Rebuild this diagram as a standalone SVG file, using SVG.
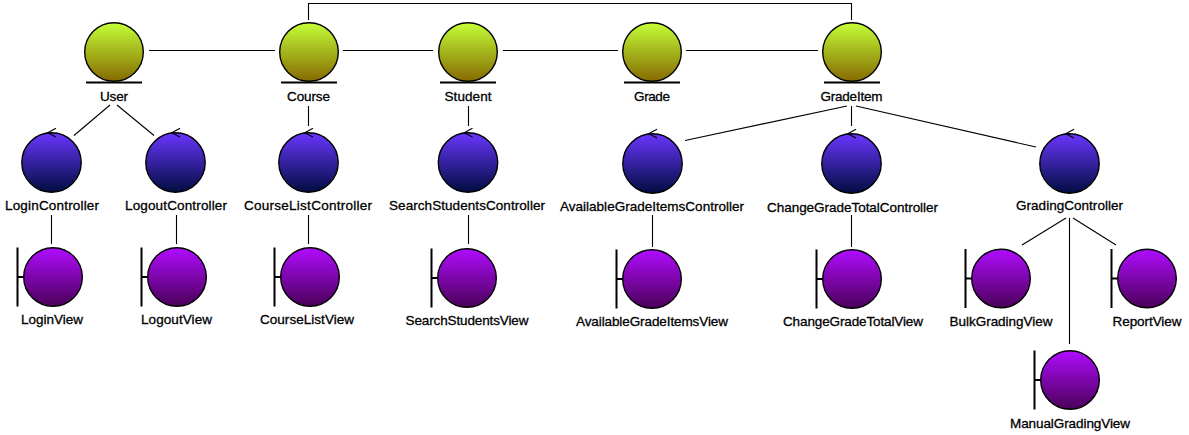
<svg xmlns="http://www.w3.org/2000/svg" width="1189" height="435" viewBox="0 0 1189 435">
<style>
text{font-family:"Liberation Sans",Arial,sans-serif;font-size:13.5px;text-anchor:middle;fill:#000;stroke:#000;stroke-width:.3px}
.c{fill:none;stroke:#000;stroke-width:1.1}
.o{stroke:#000;stroke-width:1.4}
.b{stroke:#000;stroke-width:2;fill:none}
</style>
<defs>
<linearGradient id="ge" x1="0" y1="0" x2="0" y2="1"><stop offset="0" stop-color="#c4ff38"/><stop offset="1" stop-color="#856a00"/></linearGradient>
<linearGradient id="gc" x1="0" y1="0" x2="0" y2="1"><stop offset="0" stop-color="#6a36ff"/><stop offset="1" stop-color="#000d40"/></linearGradient>
<linearGradient id="gv" x1="0" y1="0" x2="0" y2="1"><stop offset="0" stop-color="#b00cff"/><stop offset="1" stop-color="#4a0058"/></linearGradient>
<g id="entity"><circle r="29.3" fill="url(#ge)" class="o"/><path d="M-28 30.500H28" class="b"/></g>
<g id="control"><circle r="29.7" fill="url(#gc)" class="o"/><path d="M4.500 -34.200L-3.800 -29.800L4.500 -25.500" class="c"/></g>
<g id="view"><circle r="29.3" fill="url(#gv)" class="o"/><path d="M-35.500 -29.500V29.500M-35.500 0H-29.500" class="b"/></g>
</defs>
<g id="connectors" class="c">
<path class="c" d="M149 50.500H275"/>
<path class="c" d="M343 50.500H433"/>
<path class="c" d="M503 50.500H618"/>
<path class="c" d="M686 50.500H818"/>
<path class="c" d="M308.500 20V3.500H851.500V20"/>
<path class="c" d="M110 105L74 135.500"/>
<path class="c" d="M117 105L154 135.500"/>
<path class="c" d="M308.500 106V126"/>
<path class="c" d="M468.500 106V126"/>
<path class="c" d="M847 106L685 140.500"/>
<path class="c" d="M851.500 106V126"/>
<path class="c" d="M856 106L1036 147"/>
<path class="c" d="M51.500 215V244"/>
<path class="c" d="M176.500 215V244"/>
<path class="c" d="M308.500 215V244"/>
<path class="c" d="M468.500 215V244"/>
<path class="c" d="M652.500 215V247"/>
<path class="c" d="M851.500 215V247"/>
<path class="c" d="M1066 218L1022 245"/>
<path class="c" d="M1069.500 218V344"/>
<path class="c" d="M1073 218L1116 245"/>
</g>
<g id="User"><use href="#entity" x="114" y="52"/><text x="114" y="101" textLength="28">User</text></g>
<g id="Course"><use href="#entity" x="309" y="52"/><text x="308.500" y="101" textLength="43">Course</text></g>
<g id="Student"><use href="#entity" x="468" y="52"/><text x="468" y="101" textLength="47">Student</text></g>
<g id="Grade"><use href="#entity" x="652" y="52"/><text x="652" y="101" textLength="36">Grade</text></g>
<g id="GradeItem"><use href="#entity" x="852" y="52"/><text x="851.500" y="101" textLength="62">GradeItem</text></g>
<g id="LoginController"><use href="#control" x="51.500" y="162.500"/><text x="52" y="210" textLength="94">LoginController</text></g>
<g id="LogoutController"><use href="#control" x="175.500" y="162.500"/><text x="176" y="210" textLength="102">LogoutController</text></g>
<g id="CourseListController"><use href="#control" x="308.500" y="162.500"/><text x="308" y="210" textLength="128">CourseListController</text></g>
<g id="SearchStudentsController"><use href="#control" x="468" y="162.500"/><text x="467" y="210" textLength="156">SearchStudentsController</text></g>
<g id="AvailableGradeItemsController"><use href="#control" x="652.500" y="163.500"/><text x="652" y="211" textLength="184">AvailableGradeItemsController</text></g>
<g id="ChangeGradeTotalController"><use href="#control" x="851.500" y="163.500"/><text x="852.500" y="212" textLength="171">ChangeGradeTotalController</text></g>
<g id="GradingController"><use href="#control" x="1069.500" y="163.500"/><text x="1069.500" y="210" textLength="107">GradingController</text></g>
<g id="LoginView"><use href="#view" x="53" y="277"/><text x="52" y="324" textLength="62">LoginView</text></g>
<g id="LogoutView"><use href="#view" x="177" y="277"/><text x="176.500" y="324" textLength="71">LogoutView</text></g>
<g id="CourseListView"><use href="#view" x="310" y="277"/><text x="307" y="324" textLength="94">CourseListView</text></g>
<g id="SearchStudentsView"><use href="#view" x="467" y="278"/><text x="467" y="325" textLength="123">SearchStudentsView</text></g>
<g id="AvailableGradeItemsView"><use href="#view" x="652" y="279"/><text x="652" y="326" textLength="152">AvailableGradeItemsView</text></g>
<g id="ChangeGradeTotalView"><use href="#view" x="852" y="279"/><text x="853" y="326" textLength="140">ChangeGradeTotalView</text></g>
<g id="BulkGradingView"><use href="#view" x="1001" y="278.500"/><text x="1001" y="326" textLength="103">BulkGradingView</text></g>
<g id="ReportView"><use href="#view" x="1147" y="278.500"/><text x="1147" y="326" textLength="69">ReportView</text></g>
<g id="ManualGradingView"><use href="#view" x="1070" y="380"/><text x="1070" y="428" textLength="120">ManualGradingView</text></g>
</svg>
